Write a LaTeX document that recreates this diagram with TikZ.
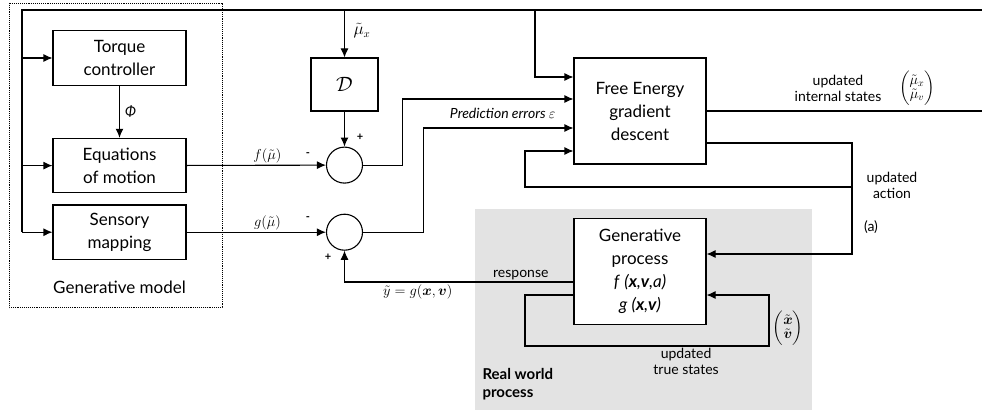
\documentclass[tikz,border=0pt]{standalone}
\usepackage{amsmath}
\usepackage{fontspec}
\setmainfont{Lato}
\usetikzlibrary{positioning,arrows.meta}

\begin{document}
\begin{tikzpicture}[
    x=1pt, y=-1pt,
    line width=1.1pt,
    block/.style={rectangle, draw, fill=white, minimum width=133pt, minimum height=54.5pt, align=center, inner sep=0pt, font=\fontsize{17}{23}\selectfont},
    sumnode/.style={circle, draw, fill=white, minimum size=36pt, inner sep=0pt},
    arrow/.style={-{Latex[length=9pt,width=8pt]}},
    lbl/.style={align=center, inner sep=2pt, font=\fontsize{14}{16}\selectfont},
    sign/.style={inner sep=0pt, font=\bfseries\fontsize{11}{11}\selectfont}
]
    \useasboundingbox (0,0) rectangle (982,412);
    % real world process
    \fill[gray!22] (475,209) rectangle (812,410);
    \node (realworld) [lbl, anchor=west, align=left, font=\bfseries\fontsize{15}{18}\selectfont] at (480,384) {Real world\\process};
    % generative model
    \draw[densely dotted, line width=0.9pt] (9,3) rectangle (222,307);
    \node (torque) [block] at (119.5,58) {Torque\\controller};
    \node (motion) [block, below=52pt of torque] {Equations\\of motion};
    \node (sensory) [block, below=11pt of motion] {Sensory\\mapping};
    \node (genmodel) [font=\fontsize{17}{20}\selectfont] at (119.5,287) {Generative model};
    \node (D) [block, minimum width=67pt, minimum height=53pt, font=\fontsize{21}{23}\selectfont] at (344.5,84.5) {$\mathcal{D}$};
    \node (sum1) [sumnode, below=35pt of D] {};
    \node (sum2) [sumnode, below=30pt of sum1] {};
    \node (FE) [block, minimum width=132pt, minimum height=106pt] at (640,111) {Free Energy\\gradient\\descent};
    \node (GP) [block, minimum width=132pt, minimum height=106pt, below=53pt of FE] {Generative\\process\\\textit{f} \textit{(\textbf{x},\textbf{v},a)}\\\textit{g} \textit{(\textbf{x},\textbf{v})}};
    \coordinate (tl) at (22,10);
    \coordinate (tr) at (982,10);
    \coordinate (out) at (982,111);
    \coordinate (act) at (852,187);
    % top line and model inputs
    \draw (tr) -- (tl) -- (tl |- sensory.west);
    \draw [arrow] (tl |- torque.west) -- (torque.west);
    \draw [arrow] (tl |- motion.west) -- (motion.west);
    \draw [arrow] (tl |- sensory.west) -- (sensory.west);
    \draw [arrow] (torque) -- node[lbl, right, xshift=3pt] {\textit{Φ}} (motion);
    \draw [arrow] (tl -| D.north) -- (D.north);
    \node (mux) [lbl, font=\fontsize{16}{16}\selectfont] at (362,31) {$\tilde{\mu}_x$};
    \draw [arrow] (D) -- (sum1);
    \draw [arrow] (motion) -- node[lbl, above, pos=0.58] {$f(\tilde{\mu})$} (sum1);
    \draw [arrow] (sensory) -- node[lbl, above, pos=0.58] {$g(\tilde{\mu})$} (sum2);
    \node [sign] at (308,155) {-};
    \node [sign] at (360,137) {+};
    \node [sign] at (308,219) {-};
    \node [sign] at (328,257) {+};
    % prediction errors
    \draw [arrow] (sum1.east) -- ++(39,0) |- (FE.west |- 0,99);
    \draw [arrow] (sum2.east) -- ++(60,0) |- (FE.west |- 0,128);
    \node (errors) [lbl, anchor=east, font=\itshape\fontsize{14}{16}\selectfont] at (558,113) {Prediction errors $\varepsilon$};
    \draw [arrow] (tl -| 535,0) |- (FE.west |- 0,77);
    % outputs of the gradient descent
    \draw (FE.east) -- (out);
    \node (internal) [lbl] at (838,88) {updated\\internal states};
    \node (mustates) [lbl] at (917,88) {$\begin{pmatrix}\tilde{\mu}_x\\[-2pt]\tilde{\mu}_v\end{pmatrix}$};
    \draw [arrow] (FE.east |- 0,143) -| (act) |- (GP.east |- 0,254);
    \draw [arrow] (act) -- (act -| 525,0) |- (FE.west |- 0,151);
    \node (action) [lbl] at (892,185) {updated\\action};
    \node (a) [lbl] at (871,227) {(a)};
    % real world loop
    \draw [arrow] (GP.west |- 0,282) -| node[lbl, above, pos=0.115] {response} node[lbl, below, pos=0.34] {$\tilde{y} = g(\boldsymbol{x},\boldsymbol{v})$} (sum2.south);
    \draw [arrow] (GP.west |- 0,295) -- (525,295) -- (525,346) -- node[lbl, below, pos=0.66] {updated\\true states} (769,346) -- (769,295) -- (GP.east |- 0,295);
    \node (truestates) [lbl] at (788,328) {$\begin{pmatrix}\tilde{\boldsymbol{x}}\\[-2pt]\tilde{\boldsymbol{v}}\end{pmatrix}$};
\end{tikzpicture}
\end{document}
